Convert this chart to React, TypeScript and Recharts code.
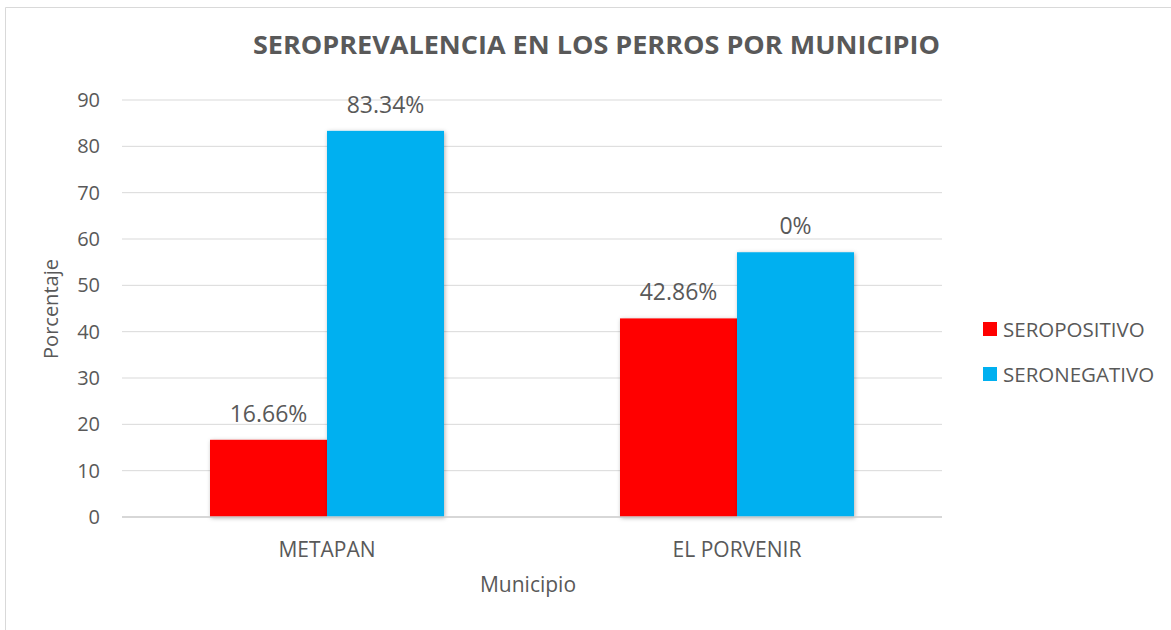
import { BarChart, Bar, XAxis, YAxis, CartesianGrid, LabelList } from 'recharts';

// Seroprevalencia por municipio (%)
const municipios = ['METAPAN', 'EL PORVENIR'];
const seropositivo = [16.66, 42.86];
const seronegativo = [83.34, 57.14];
// labels as printed on the original chart
const positivoLabels = ['16.66%', '42.86%'];
const negativoLabels = ['83.34%', '0%'];
const yTicks = [0, 10, 20, 30, 40, 50, 60, 70, 80, 90];

const series = [
    { key: 'seropositivo', name: 'SEROPOSITIVO', color: '#ff0000', labelKey: 'posLabel' },
    { key: 'seronegativo', name: 'SERONEGATIVO', color: '#00b0f0', labelKey: 'negLabel' },
];

const data = municipios.map((m, i) => ({
    municipio: m,
    seropositivo: seropositivo[i],
    seronegativo: seronegativo[i],
    posLabel: positivoLabels[i],
    negLabel: negativoLabels[i],
}));

const FONT = '"Open Sans", "Noto Sans", sans-serif';
const TEXT = '#595959';
const GRID = '#d9d9d9';

// bars get a soft shadow like the office chart
const ShadowBar = (props: any) => {
    const { x, y, width, height, fill } = props;
    if (!height || height <= 0) return null;
    return <rect x={x} y={y} width={width} height={height} fill={fill} filter="url(#barShadow)" />;
};

export default function App() {
    return (
        <div style={{ position: 'absolute', left: 0, top: 0, width: 1171, height: 630, background: '#fff', fontFamily: FONT }}>
            <svg width={0} height={0} style={{ position: 'absolute' }}>
                <defs>
                    <filter id="barShadow" x="-10%" y="-10%" width="120%" height="120%">
                        <feDropShadow dx="1" dy="1" stdDeviation="2" floodColor="#000" floodOpacity="0.3" />
                    </filter>
                </defs>
            </svg>

            <BarChart
                width={1171}
                height={630}
                data={data}
                margin={{ top: 100, right: 229, bottom: 73, left: 0 }}
                barCategoryGap={88}
                barGap={0}
            >
                <CartesianGrid vertical={false} stroke={GRID} />
                <XAxis
                    dataKey="municipio"
                    height={40}
                    tickLine={false}
                    axisLine={{ stroke: '#d0d0d0', strokeWidth: 1.5 }}
                    tickMargin={19}
                    tick={{ fill: TEXT, fontSize: 21, fontFamily: FONT }}
                />
                <YAxis
                    width={122}
                    domain={[0, 90]}
                    ticks={yTicks}
                    tickLine={false}
                    axisLine={false}
                    tickMargin={16}
                    tick={{ fill: TEXT, fontSize: 20, fontFamily: FONT }}
                />
                {series.map(s => (
                    <Bar
                        key={s.key}
                        dataKey={s.key}
                        name={s.name}
                        fill={s.color}
                        shape={ShadowBar}
                        isAnimationActive={false}
                    >
                        <LabelList
                            dataKey={s.labelKey}
                            position="top"
                            offset={18}
                            fill={TEXT}
                            fontSize={23}
                            fontFamily={FONT}
                        />
                    </Bar>
                ))}
            </BarChart>

            {/* title, axis titles, frame */}
            <svg width={1171} height={630} style={{ position: 'absolute', left: 0, top: 0, pointerEvents: 'none' }}>
                <line x1={5.5} y1={7.5} x2={5.5} y2={630} stroke={GRID} />
                <line x1={5.5} y1={7.5} x2={1171} y2={7.5} stroke={GRID} />
                <text
                    x={253}
                    y={54}
                    textLength={687}
                    lengthAdjust="spacingAndGlyphs"
                    fill={TEXT}
                    fontSize={25}
                    fontWeight={700}
                    fontFamily={FONT}
                >
                    SEROPREVALENCIA EN LOS PERROS POR MUNICIPIO
                </text>
                <text
                    x={0}
                    y={0}
                    transform="translate(50 309) rotate(-90)"
                    textAnchor="middle"
                    dominantBaseline="central"
                    fill={TEXT}
                    fontSize={20}
                    fontFamily={FONT}
                >
                    Porcentaje
                </text>
                <text x={528} y={592} textAnchor="middle" fill={TEXT} fontSize={21} fontFamily={FONT}>
                    Municipio
                </text>
            </svg>

            {/* legend */}
            <div style={{ position: 'absolute', left: 983, top: 306.5 }}>
                {series.map(s => (
                    <div key={s.key} style={{ height: 45, display: 'flex', alignItems: 'center' }}>
                        <span style={{ width: 14, height: 14, background: s.color, display: 'inline-block' }} />
                        <span style={{ marginLeft: 6, color: TEXT, fontSize: 20.5, lineHeight: '20px' }}>{s.name}</span>
                    </div>
                ))}
            </div>
        </div>
    );
}
